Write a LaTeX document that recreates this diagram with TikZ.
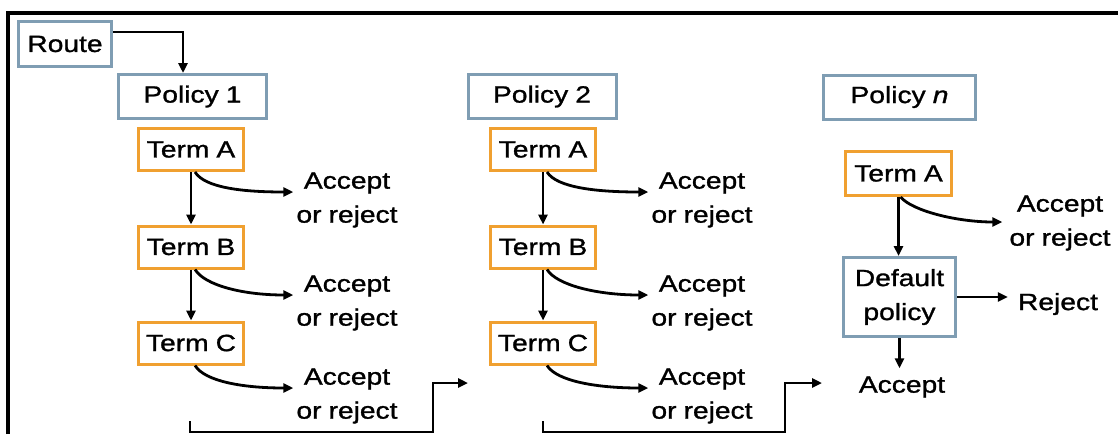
\documentclass[tikz,border=0pt]{standalone}
\usepackage{fontspec}
\setmainfont{Liberation Sans}[FakeStretch=1.2,WordSpace=0.9,FakeBold=1.2]
\usetikzlibrary{arrows.meta,calc}
\definecolor{pblue}{HTML}{7F9DB3}
\definecolor{torange}{HTML}{F0A030}
\begin{document}
\begin{tikzpicture}[x=1pt,y=-1pt,
  font=\fontsize{23.5}{34}\selectfont,
  pol/.style={draw=pblue, line width=3pt, minimum width=148pt, minimum height=44pt, inner sep=0pt},
  term/.style={draw=torange, line width=3pt, minimum width=105pt, minimum height=42pt, inner sep=0pt},
  lbl/.style={align=center, inner sep=0pt},
  arr/.style={line width=2.8pt, -{Triangle[length=10pt,width=9pt]}},
  frameline/.style={line width=4pt}]
\useasboundingbox (0,0) rectangle (1118,434);
\draw[frameline] (8,434) -- (8,13) -- (1118,13);

% policy boxes
\node[pol, minimum width=93pt, minimum height=45pt] (route) at (65,44) {Route};
\node[pol] (p1) at (192.5,96.5) {Policy 1};
\node[pol] (p2) at (542,96.5) {Policy 2};
\node[pol, minimum width=152pt] (pn) at (899.5,97) {Policy \textit{n}};

% terms policy 1
\node[term] (a1) at (191,149.5) {Term A};
\node[term] (b1) at (191,247) {Term B};
\node[term] (c1) at (191,343) {Term C};
% terms policy 2
\node[term] (a2) at (543,149.5) {Term A};
\node[term] (b2) at (543,247) {Term B};
\node[term] (c2) at (543,343) {Term C};
% policy n
\node[term, minimum width=106pt, minimum height=44pt] (an) at (898.5,173.5) {Term A};
\node[pol, minimum width=112pt, minimum height=79pt, align=center] (def) at (899.5,297) {Default\\policy};

% labels
\node[lbl] (ra1) at (347,200) {Accept\\or reject};
\node[lbl] (rb1) at (347,303) {Accept\\or reject};
\node[lbl] (rc1) at (347,396) {Accept\\or reject};
\node[lbl] (ra2) at (702,200) {Accept\\or reject};
\node[lbl] (rb2) at (702,303) {Accept\\or reject};
\node[lbl] (rc2) at (702,396) {Accept\\or reject};
\node[lbl] (ran) at (1060,223) {Accept\\or reject};
\node[lbl] (rej) at (1058,304) {Reject};
\node[lbl] (acc) at (902,387) {Accept};

% route arrow
\draw[arr] ($(route.north east)+(0,12)$) -| ([xshift=-9.5pt]p1.north);

% vertical arrows
\draw[arr] (a1) -- (b1);
\draw[arr] (b1) -- (c1);
\draw[arr] (a2) -- (b2);
\draw[arr] (b2) -- (c2);
\draw[arr] (an.south) -- (an.south |- def.north);
\draw[arr] (def.east) -- ([xshift=-10pt]def.east -| rej.west);
\draw[arr] (def.south) -- ([yshift=8pt]def.south |- acc.north);

% curved arrows
\foreach \t/\r in {a1/ra1,b1/rb1,c1/rc1,a2/ra2,b2/rb2,c2/rc2}{
  \draw[arr] ([xshift=4pt]\t.south) .. controls +(10,16) and +(-50,0) .. ($(\r.west)+(-3,-8)$);
}
\draw[arr] ([xshift=2pt]an.south) .. controls +(12,14) and +(-45,0) .. ($(ran.west)+(-7,-1)$);

% bottom connectors
\coordinate (s1) at (190,421);
\coordinate (e1) at (468,383);
\coordinate (s2) at (543,421);
\coordinate (e2) at (822,383);
\draw[arr] (s1) |- (433,432) |- (e1);
\draw[arr] (s2) |- (785,432) |- (e2);
\end{tikzpicture}
\end{document}
